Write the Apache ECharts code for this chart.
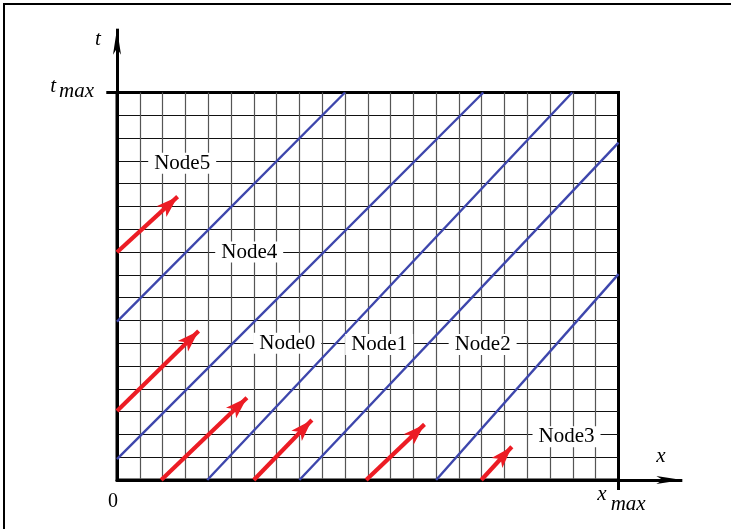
<!DOCTYPE html>
<html><head><meta charset="utf-8">
<script src="https://cdn.jsdelivr.net/npm/echarts@6/dist/echarts.min.js"></script>
<style>html,body{margin:0;padding:0;background:#fff}#c{width:731px;height:529px}</style>
</head><body><div id="c"></div>
<script>
// axis ranges (grid units)
const xMax = 22;
const tMax = 17;
// blue node lines: start / end points [x, t]
const blueFrom = [[0, 6.95], [0, 0.92], [3.96, 0], [8, 0], [14, 0]];
const blueTo = [[10, 17], [16.07, 17], [19.97, 17], [22, 14.8], [22, 9.03]];
// red arrows: start / tip [x, t]
const redFrom = [[0, 9.99], [0, 3.03], [1.94, 0], [6.0, 0], [10.93, 0], [15.98, 0]];
const redTo = [[2.66, 12.43], [3.58, 6.54], [5.7, 3.61], [8.55, 2.63], [13.49, 2.44], [17.32, 1.46]];
// node labels
const nodeNames = ['Node5', 'Node4', 'Node0', 'Node1', 'Node2', 'Node3'];
const nodeX = [2.86, 5.8, 7.47, 11.5, 16.04, 19.72];
const nodeT = [13.9, 10.0, 6.0, 5.95, 5.95, 1.9];
// axis extensions (arrows beyond the frame, ticks at max)
const tAxisArrow = [[0, tMax], [0, 19.8]];
const xAxisArrow = [[xMax, 0], [24.8, 0]];
const tMaxTick = [[-0.47, tMax], [0, tMax]];
const xMaxTick = [[xMax, 0], [xMax, -0.44]];

const serif = 'Liberation Serif';
const chart = echarts.init(document.getElementById('c'), null, {renderer: 'canvas'});
chart.setOption({
  animation: false,
  backgroundColor: '#fff',
  grid: {left: 117, top: 92.5, right: 112.5, bottom: 49, show: true, borderColor: '#000', borderWidth: 3, backgroundColor: 'transparent'},
  xAxis: {
    type: 'value', min: 0, max: xMax, interval: 1,
    axisLine: {show: true, lineStyle: {color: '#000', width: 3}},
    axisTick: {show: false},
    splitLine: {show: true, showMinLine: false, showMaxLine: false, lineStyle: {color: '#555', width: 1.2}},
    axisLabel: {
      show: true, margin: 9, showMinLabel: true, showMaxLabel: true,
      formatter: v => v === 0 ? '{z|0}' : (v === xMax ? '{v|x}{s|max}' : ''),
      rich: {
        z: {fontFamily: serif, fontSize: 20, color: '#000', lineHeight: 20, padding: [5, 8, 0, 0]},
        v: {fontFamily: serif, fontSize: 21, fontStyle: 'italic', color: '#000', lineHeight: 20, padding: [0, 0, 10, 6]},
        s: {fontFamily: serif, fontSize: 21, fontStyle: 'italic', color: '#000', lineHeight: 20, padding: [10, 0, 0, 4]}
      }
    }
  },
  yAxis: {
    type: 'value', min: 0, max: tMax, interval: 1,
    axisLine: {show: true, lineStyle: {color: '#000', width: 3}},
    axisTick: {show: false},
    splitLine: {show: true, showMinLine: false, showMaxLine: false, lineStyle: {color: '#111', width: 1.2}},
    axisLabel: {
      show: true, margin: 23, showMinLabel: true, showMaxLabel: true,
      formatter: v => v === tMax ? '{v|t}{s|max}' : '',
      rich: {
        v: {fontFamily: serif, fontSize: 21, fontStyle: 'italic', color: '#000', lineHeight: 20, padding: [0, 0, 13, 0]},
        s: {fontFamily: serif, fontSize: 21, fontStyle: 'italic', color: '#000', lineHeight: 20, padding: [5, 0, 8, 3]}
      }
    }
  },
  graphic: [
    {type: 'rect', shape: {x: 3, y: 3, width: 728, height: 2}, style: {fill: '#000'}},
    {type: 'rect', shape: {x: 3, y: 3, width: 2, height: 526}, style: {fill: '#000'}},
    {type: 'text', x: 98, y: 39, style: {text: 't', font: 'italic 21px "Liberation Serif"', fill: '#000', align: 'center', verticalAlign: 'middle'}},
    {type: 'text', x: 661, y: 456, style: {text: 'x', font: 'italic 21px "Liberation Serif"', fill: '#000', align: 'center', verticalAlign: 'middle'}}
  ],
  series: [
    {
      type: 'lines', coordinateSystem: 'cartesian2d', z: 3, silent: true,
      data: blueFrom.map((f, i) => ({coords: [f, blueTo[i]]})),
      lineStyle: {color: '#3d46ac', width: 2.4, opacity: 1}, symbol: 'none'
    },
    {
      type: 'lines', coordinateSystem: 'cartesian2d', z: 4, silent: true,
      data: redFrom.map((f, i) => ({coords: [f, redTo[i]]})),
      lineStyle: {color: '#ec1c24', width: 4.2, opacity: 1},
      symbol: ['none', 'arrow'], symbolSize: [0, [11, 22]], symbolOffset: [0, [0, 11]]
    },
    {
      type: 'lines', coordinateSystem: 'cartesian2d', z: 4, silent: true, clip: false,
      data: [{coords: tAxisArrow}, {coords: xAxisArrow}],
      lineStyle: {color: '#000', width: 3, opacity: 1},
      symbol: ['none', 'arrow'], symbolSize: [0, [6, 26]], symbolOffset: [0, [0, 13]]
    },
    {
      type: 'lines', coordinateSystem: 'cartesian2d', z: 4, silent: true, clip: false,
      data: [{coords: tMaxTick}, {coords: xMaxTick}],
      lineStyle: {color: '#000', width: 3, opacity: 1}, symbol: 'none'
    },
    {
      type: 'scatter', z: 6, silent: true, symbol: 'circle', symbolSize: 0,
      itemStyle: {color: '#000', opacity: 1},
      data: nodeNames.map((n, i) => ({name: n, value: [nodeX[i], nodeT[i]]})),
      label: {show: true, position: 'inside', formatter: '{b}', fontFamily: serif, fontSize: 21, color: '#000',
        textBorderWidth: 0, opacity: 1,
        backgroundColor: '#fff', padding: [1, 6, 0, 6], lineHeight: 20}
    }
  ]
});
</script></body></html>
